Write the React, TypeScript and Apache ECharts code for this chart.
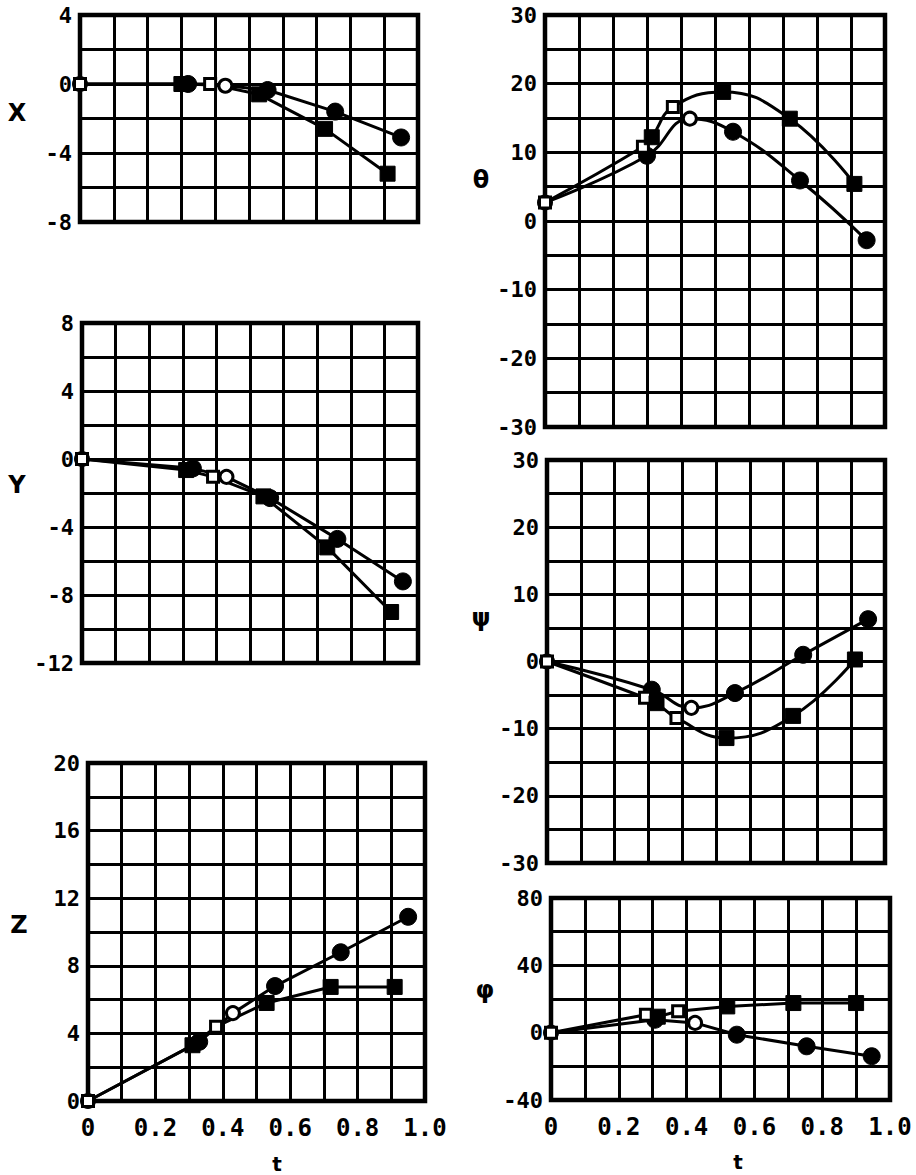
import React, { useEffect, useRef } from "react";
import * as echarts from "echarts";

// [t, value, open(1) / filled(0)]
const xCircles = [[0, 0, 1], [0.32, 0, 0], [0.43, -0.1, 1], [0.555, -0.35, 0], [0.755, -1.6, 0], [0.95, -3.1, 0]];
const xSquares = [[0, 0, 1], [0.3, 0, 0], [0.385, 0, 1], [0.53, -0.6, 0], [0.725, -2.6, 0], [0.91, -5.2, 0]];

const yCircles = [[0, 0, 1], [0.33, -0.55, 0], [0.43, -1.05, 1], [0.56, -2.3, 0], [0.76, -4.7, 0], [0.955, -7.2, 0]];
const ySquares = [[0, 0, 1], [0.31, -0.65, 0], [0.39, -1.05, 1], [0.54, -2.2, 0], [0.73, -5.2, 0], [0.92, -9.0, 0]];

const zCircles = [[0, 0, 1], [0.33, 3.5, 0], [0.43, 5.2, 1], [0.555, 6.8, 0], [0.75, 8.8, 0], [0.95, 10.9, 0]];
const zSquares = [[0, 0, 1], [0.31, 3.3, 0], [0.38, 4.4, 1], [0.53, 5.8, 0], [0.72, 6.75, 0], [0.91, 6.75, 0]];

const thetaCircles = [[0, 2.7, 1], [0.3, 9.5, 0], [0.426, 14.9, 1], [0.553, 13.0, 0], [0.75, 5.9, 0], [0.946, -2.8, 0]];
const thetaSquares = [[0, 2.7, 1], [0.288, 10.8, 1], [0.314, 12.2, 0], [0.376, 16.6, 1], [0.524, 18.8, 0], [0.72, 14.9, 0], [0.91, 5.4, 0]];

const psiCircles = [[0, 0, 1], [0.31, -4.2, 0], [0.427, -6.9, 1], [0.556, -4.7, 0], [0.758, 1.0, 0], [0.95, 6.3, 0]];
const psiSquares = [[0, 0, 1], [0.29, -5.4, 1], [0.324, -6.2, 0], [0.383, -8.4, 1], [0.531, -11.4, 0], [0.728, -8.1, 0], [0.911, 0.3, 0]];

const phiCircles = [[0, 0, 1], [0.307, 7.7, 0], [0.425, 5.8, 1], [0.548, -1.2, 0], [0.754, -8.1, 0], [0.946, -14, 0]];
const phiSquares = [[0, 0, 1], [0.28, 10.7, 1], [0.315, 9.5, 0], [0.375, 12.7, 1], [0.52, 15.6, 0], [0.715, 17.6, 0], [0.9, 17.6, 0]];

const tTickLabels = ["0", "0.2", "0.4", "0.6", "0.8", "1.0"];

const panels = [
  { name: "X", circles: xCircles, squares: xSquares, min: -8, max: 4, step: 2, smooth: false, tLabels: false,
    grid: { left: 80, top: 15, width: 338, height: 207 }, title: [17, 113] },
  { name: "Y", circles: yCircles, squares: ySquares, min: -12, max: 8, step: 2, smooth: false, tLabels: false,
    grid: { left: 82, top: 323, width: 336, height: 340 }, title: [17, 485] },
  { name: "Z", circles: zCircles, squares: zSquares, min: 0, max: 20, step: 2, smooth: false, tLabels: true,
    grid: { left: 88, top: 763, width: 337, height: 338 }, title: [19, 925] },
  { name: "θ", circles: thetaCircles, squares: thetaSquares, min: -30, max: 30, step: 5, smooth: true, tLabels: false,
    grid: { left: 545, top: 15, width: 340, height: 412 }, title: [481, 180] },
  { name: "ψ", circles: psiCircles, squares: psiSquares, min: -30, max: 30, step: 5, smooth: true, tLabels: false,
    grid: { left: 547, top: 460, width: 338, height: 403 }, title: [481, 618] },
  { name: "φ", circles: phiCircles, squares: phiSquares, min: -40, max: 80, step: 20, smooth: false, tLabels: true,
    grid: { left: 551, top: 898, width: 339, height: 202 }, title: [485, 990] },
];

const FONT = "DejaVu Sans Mono";

function toItems(arr: number[][], symbol: string, size: number) {
  return arr.map((p) => ({
    value: [p[0], p[1]],
    symbol,
    symbolSize: p[2] ? size - 4 : size,
    itemStyle: p[2]
      ? { color: "#fff", borderColor: "#000", borderWidth: 3 }
      : { color: "#000", borderColor: "#000", borderWidth: 1 },
  }));
}

export default function App() {
  const ref = useRef<HTMLDivElement>(null);
  useEffect(() => {
    if (!ref.current) return;
    const chart = echarts.init(ref.current, null, { renderer: "svg" });
    const grids: any[] = [];
    const xAxes: any[] = [];
    const yAxes: any[] = [];
    const series: any[] = [];
    const graphics: any[] = [];
    panels.forEach((p, i) => {
      grids.push({ ...p.grid, show: true, borderColor: "#000", borderWidth: 4.5, backgroundColor: "#fff" });
      xAxes.push({
        type: "value", gridIndex: i, min: 0, max: 1, interval: 0.1,
        axisLine: { show: false }, axisTick: { show: false },
        splitLine: { show: true, lineStyle: { color: "#000", width: 3 } },
        axisLabel: {
          show: p.tLabels, margin: 15, color: "#000", fontFamily: FONT, fontWeight: "bold", fontSize: 24,
          formatter: (v: number) => {
            const k = Math.round(v * 10);
            return k % 2 ? "" : tTickLabels[k / 2];
          },
        },
      });
      yAxes.push({
        type: "value", gridIndex: i, min: p.min, max: p.max, interval: p.step,
        axisLine: { show: false }, axisTick: { show: false },
        splitLine: { show: true, lineStyle: { color: "#000", width: 3 } },
        axisLabel: {
          margin: 8, color: "#000", fontFamily: FONT, fontWeight: "bold", fontSize: 22,
          formatter: (v: number) => {
            const k = Math.round((v - p.min) / p.step);
            return k % 2 ? "" : String(Math.round(v));
          },
        },
      });
      series.push({
        type: "line", xAxisIndex: i, yAxisIndex: i, smooth: p.smooth ? 0.45 : false,
        data: toItems(p.circles, "circle", 17), showSymbol: true,
        lineStyle: { color: "#000", width: 3 }, z: 3,
      });
      series.push({
        type: "line", xAxisIndex: i, yAxisIndex: i, smooth: p.smooth ? 0.45 : false,
        data: toItems(p.squares, "rect", 15), showSymbol: true,
        lineStyle: { color: "#000", width: 3 }, z: 3,
      });
      graphics.push({
        type: "text", x: p.title[0], y: p.title[1],
        style: { text: p.name, fill: "#000", font: "bold 24px 'DejaVu Sans'", textAlign: "center", textVerticalAlign: "middle" },
      });
    });
    graphics.push({
      type: "text", x: 277, y: 1164,
      style: { text: "t", fill: "#000", font: "bold 20px 'DejaVu Sans'", textAlign: "center", textVerticalAlign: "middle" },
    });
    graphics.push({
      type: "text", x: 738, y: 1162,
      style: { text: "t", fill: "#000", font: "bold 20px 'DejaVu Sans'", textAlign: "center", textVerticalAlign: "middle" },
    });
    chart.setOption({
      animation: false,
      backgroundColor: "#fff",
      grid: grids,
      xAxis: xAxes,
      yAxis: yAxes,
      series,
      graphic: graphics,
    });
    return () => chart.dispose();
  }, []);
  return <div ref={ref} style={{ position: "fixed", left: 0, top: 0, width: 916, height: 1175 }} />;
}
